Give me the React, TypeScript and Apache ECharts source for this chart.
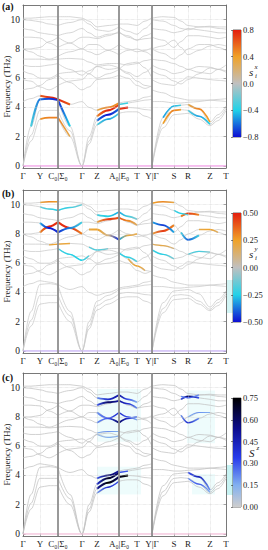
import { useEffect, useRef } from "react";
import * as echarts from "echarts";

// ---------- k-path ----------
const K_POS = [0, 17, 35, 59, 74, 96, 114, 129, 151, 165, 187, 203];
const K_LABELS = ["Γ", "Y", "C₀|Σ₀", "Γ", "Z", "A₀|E₀", "T", "Y|Γ", "S", "R", "Z", "T"];
const K_BOUNDS = [35, 96, 129];
const K_GRID = [17, 59, 74, 114, 151, 165, 187];
const F_TICKS = [0, 2, 4, 6, 8, 10];

// sample positions of each path segment
const SEG_A = [0, 8, 17, 26, 35];
const SEG_B = [35, 47, 59, 66, 74, 85, 96];
const SEG_C = [96, 105, 114, 122, 129];
const SEG_D = [129, 140, 151, 158, 165, 176, 187, 195, 203];

// ---------- phonon bands (THz), values at SEG_A | SEG_B | SEG_C | SEG_D ----------
const BAND_01 = [0, 1.7, 3.2, 3.3, 3.3, 3.3, 2.0, 0, 1.5, 2.8, 3.2, 3.6, 3.6, 3.7, 3.7, 3.4, 3.2, 0, 2.6, 3.5, 3.55, 3.6, 3.2, 2.75, 3.1, 3.8];
const BAND_02 = [0, 2.1, 3.8, 3.8, 3.8, 3.8, 2.4, 0, 1.7, 3.1, 3.5, 3.9, 3.9, 4.0, 3.95, 3.85, 3.8, 0, 2.9, 3.8, 3.85, 3.8, 3.4, 2.85, 3.3, 3.95];
const BAND_03 = [0, 2.7, 4.55, 4.6, 4.5, 4.5, 2.7, 0, 2.0, 3.4, 3.8, 4.2, 4.2, 4.3, 4.4, 4.5, 4.55, 0, 3.3, 4.1, 4.15, 4.2, 3.9, 3.0, 3.5, 4.1];
const BAND_04 = [4.4, 4.6, 4.8, 4.7, 4.55, 4.55, 4.2, 4.4, 4.0, 3.8, 4.0, 4.3, 4.3, 4.4, 4.5, 4.7, 4.8, 4.4, 4.4, 4.3, 4.3, 4.35, 4.4, 4.5, 4.45, 4.4];
const BAND_05 = [5.2, 5.3, 5.5, 5.9, 6.2, 6.2, 5.7, 5.2, 5.4, 5.9, 6.0, 6.2, 6.2, 6.0, 5.5, 5.3, 5.5, 5.2, 5.0, 4.7, 4.6, 4.5, 4.5, 4.5, 4.55, 4.6];
const BAND_06 = [5.9, 5.8, 5.4, 5.2, 5.5, 5.5, 5.8, 5.9, 6.3, 6.8, 6.9, 6.7, 6.7, 6.3, 5.8, 5.5, 5.4, 5.9, 5.6, 5.5, 5.8, 6.1, 6.0, 5.9, 5.85, 5.8];
const BAND_07 = [6.5, 6.3, 6.0, 6.0, 6.3, 6.3, 6.4, 6.5, 6.3, 6.0, 6.3, 6.6, 6.6, 7.0, 7.1, 6.7, 6.0, 6.5, 6.2, 5.8, 5.6, 5.9, 6.3, 6.7, 6.6, 6.4];
const BAND_08 = [6.9, 6.8, 6.8, 6.9, 7.0, 7.0, 6.6, 6.2, 6.5, 6.8, 6.6, 6.7, 6.7, 6.4, 6.1, 6.4, 6.8, 6.9, 6.6, 6.3, 6.4, 6.6, 6.8, 6.75, 6.6, 6.5];
const BAND_09 = [7.3, 7.3, 7.3, 7.25, 7.3, 7.3, 7.35, 7.3, 7.1, 6.9, 7.0, 7.0, 7.0, 6.9, 7.0, 7.2, 7.3, 7.3, 7.2, 7.0, 6.8, 6.6, 6.4, 6.3, 6.6, 6.9];
const BAND_10 = [8.0, 7.8, 7.5, 7.3, 7.5, 7.5, 7.8, 8.0, 8.3, 8.3, 7.9, 7.6, 7.6, 7.9, 8.0, 7.8, 7.5, 8.0, 7.7, 7.3, 7.6, 8.0, 8.3, 8.3, 8.1, 7.9];
const BAND_11 = [8.0, 8.0, 8.1, 8.5, 8.8, 8.8, 8.4, 8.0, 7.8, 7.6, 7.9, 8.3, 8.3, 8.0, 7.8, 7.9, 8.1, 8.0, 8.2, 8.6, 8.1, 7.6, 7.9, 8.2, 8.3, 8.2];
const BAND_12 = [8.8, 8.8, 8.75, 8.4, 8.1, 8.1, 8.4, 8.8, 8.8, 8.7, 8.9, 9.2, 9.2, 8.8, 8.6, 8.7, 8.75, 8.8, 8.6, 8.1, 8.5, 8.9, 8.9, 8.8, 8.7, 8.8];
const BAND_13 = [9.4, 9.3, 9.1, 9.0, 8.9, 8.9, 9.1, 9.4, 9.1, 8.8, 9.0, 9.1, 9.1, 8.9, 8.6, 8.9, 9.1, 9.4, 9.3, 9.1, 9.2, 9.4, 9.3, 9.2, 9.1, 9.1];
const BAND_14 = [10.0, 9.95, 9.85, 9.7, 9.6, 9.6, 9.8, 10.0, 9.7, 9.3, 9.2, 9.5, 9.5, 9.2, 9.0, 9.4, 9.85, 10.0, 9.9, 9.6, 9.4, 9.3, 9.5, 9.5, 9.4, 9.35];
const BAND_15 = [10.1, 10.1, 10.15, 10.2, 10.2, 10.2, 10.2, 10.1, 9.9, 9.5, 9.6, 9.7, 9.7, 9.7, 9.6, 9.9, 10.15, 10.1, 10.2, 10.15, 9.9, 9.6, 9.5, 9.55, 9.5, 9.5];
const BANDS = [BAND_01, BAND_02, BAND_03, BAND_04, BAND_05, BAND_06, BAND_07, BAND_08, BAND_09, BAND_10, BAND_11, BAND_12, BAND_13, BAND_14, BAND_15];

// ---------- projected values on band pieces: band index, first sample index, values ----------
type HL = { b: number; i: number; s: number[] };
const HL_A: HL[] = [
  { b: 3, i: 2, s: [0.6, 0.75, 0.8] }, { b: 3, i: 5, s: [0.8, 0.6] },
  { b: 2, i: 1, s: [-0.3, -0.6, -0.7, -0.75] }, { b: 2, i: 5, s: [-0.75, -0.4] },
  { b: 0, i: 2, s: [0.45, 0.5, 0.5] }, { b: 0, i: 5, s: [0.5, 0.3] },
  { b: 2, i: 9, s: [0.5, 0.8, 0.7] }, { b: 1, i: 9, s: [-0.6, -0.8, -0.6] },
  { b: 0, i: 9, s: [-0.3, -0.5, -0.3] }, { b: 3, i: 9, s: [0.3, 0.5, 0.45] },
  { b: 1, i: 12, s: [0.7, 0.8] }, { b: 2, i: 12, s: [-0.3, -0.35] },
  { b: 2, i: 18, s: [-0.5, -0.45, -0.3] }, { b: 1, i: 18, s: [0.4, 0.5, 0.4] },
  { b: 2, i: 21, s: [0.3, 0.5, 0.4] }, { b: 1, i: 21, s: [-0.3, -0.5, -0.4] },
];
const HL_B: HL[] = [
  { b: 14, i: 2, s: [0.2, 0.3, 0.25] }, { b: 14, i: 17, s: [0.25, 0.3, 0.2] },
  { b: 13, i: 2, s: [-0.15, -0.2, -0.25] }, { b: 13, i: 5, s: [-0.25, -0.2, -0.15] },
  { b: 10, i: 2, s: [0.3, 0.5, 0.45] }, { b: 11, i: 2, s: [-0.3, -0.5, -0.45] },
  { b: 10, i: 5, s: [0.45, 0.5, 0.3] }, { b: 11, i: 5, s: [-0.45, -0.35, -0.2] },
  { b: 8, i: 3, s: [0.2, 0.25] }, { b: 8, i: 5, s: [0.25, 0.2] },
  { b: 7, i: 5, s: [-0.2, -0.25, -0.25, -0.15] },
  { b: 9, i: 8, s: [0.2, 0.25, 0.1, -0.45] },
  { b: 12, i: 9, s: [0.2, 0.45, 0.4] }, { b: 13, i: 9, s: [-0.2, -0.25, -0.3] },
  { b: 13, i: 12, s: [-0.3, -0.2, -0.1] }, { b: 12, i: 12, s: [0.4, 0.3, 0.15] },
  { b: 9, i: 12, s: [-0.3, 0.2, 0.25] }, { b: 7, i: 12, s: [-0.2, -0.25, -0.15] },
  { b: 5, i: 13, s: [0.15, 0.25, 0.15] }, { b: 8, i: 8, s: [-0.15, -0.2, -0.1] },
  { b: 10, i: 17, s: [0.2, 0.45, 0.3] }, { b: 11, i: 17, s: [-0.3, -0.45, -0.3] },
  { b: 7, i: 17, s: [-0.2, -0.25, -0.1] }, { b: 8, i: 17, s: [0.15, 0.2, 0.1] },
  { b: 12, i: 20, s: [0.3, 0.45, 0.3] }, { b: 13, i: 19, s: [-0.2, -0.25, -0.15] },
  { b: 10, i: 20, s: [-0.2, -0.4, -0.2] }, { b: 9, i: 22, s: [0.2, 0.25, 0.15] },
  { b: 7, i: 21, s: [-0.15, -0.2, -0.1] },
];
const HL_C: HL[] = [
  { b: 2, i: 9, s: [0.4, 0.7, 0.6] }, { b: 1, i: 9, s: [0.5, 0.75, 0.6] },
  { b: 0, i: 9, s: [0.2, 0.4, 0.3] }, { b: 3, i: 9, s: [0.3, 0.6, 0.5] },
  { b: 1, i: 12, s: [0.7, 0.75] }, { b: 2, i: 12, s: [0.3, 0.3] },
  { b: 12, i: 9, s: [0.3, 0.6, 0.5] }, { b: 13, i: 9, s: [0.2, 0.4, 0.5] },
  { b: 12, i: 12, s: [0.5, 0.4, 0.2] }, { b: 13, i: 12, s: [0.5, 0.3, 0.15] },
  { b: 9, i: 9, s: [0.2, 0.3, 0.6] }, { b: 10, i: 9, s: [0.2, 0.3, 0.4] },
  { b: 9, i: 12, s: [0.6, 0.4, 0.2] }, { b: 10, i: 12, s: [0.4, 0.3, 0.15] },
  { b: 8, i: 9, s: [0.15, 0.2, 0.15] }, { b: 7, i: 9, s: [0.1, 0.15, 0.15] },
  { b: 12, i: 20, s: [0.3, 0.6, 0.3] }, { b: 13, i: 20, s: [0.2, 0.3, 0.2] },
  { b: 10, i: 20, s: [0.2, 0.4, 0.2] }, { b: 9, i: 21, s: [0.15, 0.2, 0.15] },
  { b: 2, i: 21, s: [0.3, 0.45, 0.2] }, { b: 1, i: 21, s: [0.2, 0.3, 0.15] },
];

const FONT = "'Liberation Serif', 'DejaVu Serif', serif";
const SEGMENTS = [SEG_A, SEG_B, SEG_C, SEG_D];
const SAMPLE_X = [...SEG_A, ...SEG_B, ...SEG_C, ...SEG_D];

type Stop = [number, number[]];
const DIVERGING: Stop[] = [[0, [14, 14, 210]], [0.25, [34, 210, 232]], [0.5, [192, 192, 192]], [0.75, [240, 162, 40]], [1, [226, 30, 14]]];
const SEQUENTIAL: Stop[] = [[0, [206, 206, 206]], [0.2, [130, 176, 240]], [0.45, [40, 60, 236]], [0.72, [12, 12, 140]], [1, [0, 0, 0]]];

function colorAt(stops: Stop[], t: number) {
  t = Math.max(0, Math.min(1, t));
  for (let k = 1; k < stops.length; k++) {
    if (t <= stops[k][0]) {
      const [t0, c0] = stops[k - 1];
      const [t1, c1] = stops[k];
      const u = (t - t0) / (t1 - t0);
      const c = c0.map((v, j) => Math.round(v + (c1[j] - v) * u));
      return `rgb(${c[0]},${c[1]},${c[2]})`;
    }
  }
  const c = stops[stops.length - 1][1];
  return `rgb(${c[0]},${c[1]},${c[2]})`;
}

function bandData(band: number[]) {
  const out: any[] = [];
  let st = 0;
  SEGMENTS.forEach((seg, si) => {
    seg.forEach((x, j) => out.push([x, band[st + j]]));
    if (si < SEGMENTS.length - 1) out.push([seg[seg.length - 1], null]);
    st += seg.length;
  });
  return out;
}

const PANELS = [
  { top: 5, label: "(a)", labelTop: 1, hl: HL_A, stops: DIVERGING, div: true, max: 0.8, cbMin: -0.8, cbMax: 0.8, cbStep: 0.4, dec: 1, cbTop: 30, cbH: 107, zero: "#f2a8e8", sup: "x", sub: "i", titleY: 64 },
  { top: 190, label: "(b)", labelTop: 188, hl: HL_B, stops: DIVERGING, div: true, max: 0.5, cbMin: -0.5, cbMax: 0.5, cbStep: 0.25, dec: 2, cbTop: 213, cbH: 109, zero: "#cbb8f4", sup: "y", sub: "i", titleY: 246 },
  { top: 373, label: "(c)", labelTop: 372, hl: HL_C, stops: SEQUENTIAL, div: false, max: 0.75, cbMin: 0, cbMax: 0.75, cbStep: 0.15, dec: 2, cbTop: 398, cbH: 109, zero: "#f4c4dc", sup: "z", sub: "", titleY: 445 },
];

const AX = "#6a6a6a";

function buildOption() {
  const grid: any[] = [], xAxis: any[] = [], yAxis: any[] = [], series: any[] = [], graphic: any[] = [];
  PANELS.forEach((p, pi) => {
    const gMain = grid.length;
    grid.push({ left: 23, top: p.top, width: 203, height: 163, outerBoundsMode: "none" });
    const gCb = grid.length;
    grid.push({ left: 233, top: p.cbTop, width: 8, height: p.cbH, show: true, borderColor: "#444", borderWidth: 0.8, outerBoundsMode: "none" });

    const xMain = xAxis.length;
    const xBase = {
      type: "value", gridIndex: gMain, min: 0, max: 203,
      axisLine: { show: true, onZero: false, lineStyle: { color: AX, width: 0.9 } },
      axisTick: { show: true, inside: true, length: 2.5, customValues: K_POS, lineStyle: { color: AX, width: 0.7 } },
      splitLine: { show: false },
    };
    xAxis.push({
      ...xBase, position: "bottom",
      axisLabel: {
        show: true, customValues: K_POS, showMinLabel: true, showMaxLabel: true, hideOverlap: false,
        formatter: (v: number) => { const k = K_POS.indexOf(Math.round(v)); return k >= 0 ? K_LABELS[k] : ""; },
        fontFamily: FONT, fontSize: 9, color: "#222", margin: 3,
      },
    });
    xAxis.push({ ...xBase, position: "top", axisLabel: { show: false } });
    const xCb = xAxis.length;
    xAxis.push({ type: "value", gridIndex: gCb, min: 0, max: 1, show: false });

    const yMain = yAxis.length;
    const yBase = {
      type: "value", gridIndex: gMain, min: -0.14, max: 11,
      axisLine: { show: true, onZero: false, lineStyle: { color: AX, width: 0.9 } },
      axisTick: { show: true, inside: true, length: 2.5, customValues: F_TICKS, lineStyle: { color: AX, width: 0.7 } },
      splitLine: { show: false },
    };
    yAxis.push({
      ...yBase, position: "left",
      axisLabel: { show: true, customValues: F_TICKS, fontFamily: FONT, fontSize: 9.5, color: "#222", margin: 3 },
      name: "Frequency (THz)", nameLocation: "middle", nameGap: 12, nameMoveOverlap: false,
      nameTextStyle: { fontFamily: FONT, fontSize: 9, color: "#222" },
    });
    yAxis.push({ ...yBase, position: "right", axisLabel: { show: false } });
    const yCb = yAxis.length;
    yAxis.push({
      type: "value", gridIndex: gCb, min: p.cbMin, max: p.cbMax, interval: p.cbStep, position: "right",
      axisLine: { show: false },
      axisTick: { show: true, inside: true, length: 2, lineStyle: { color: "#333", width: 0.6 } },
      axisLabel: {
        fontFamily: FONT, fontSize: 8.5, color: "#222", margin: 2,
        formatter: (v: number) => (v < -1e-9 ? "−" : "") + Math.abs(v).toFixed(p.dec),
      },
      splitLine: { show: false },
    });

    // grid lines + zero line
    const dotted = { type: "dotted", color: "#cfcfcf", width: 0.6 };
    series.push({
      type: "line", xAxisIndex: xMain, yAxisIndex: yMain, z: 1, silent: true, symbol: "none",
      data: [[0, 0], [203, 0]], lineStyle: { color: p.zero, width: 0.9 },
      markLine: {
        silent: true, symbol: ["none", "none"], label: { show: false }, animation: false,
        data: [
          ...K_GRID.map((k) => ({ xAxis: k, lineStyle: dotted })),
          ...F_TICKS.filter((f) => f > 0).map((f) => ({ yAxis: f, lineStyle: dotted })),
        ],
      },
      markArea: pi === 2 ? {
        silent: true, animation: false, itemStyle: { color: "rgba(205,246,246,0.35)" },
        data: [
          [{ coord: [74, 2.7] }, { coord: [118, 4.6] }],
          [{ coord: [74, 6.3] }, { coord: [118, 9.9] }],
          [{ coord: [164, 6.2] }, { coord: [192, 9.8] }],
          [{ coord: [169, 2.7] }, { coord: [192, 4.1] }],
        ],
      } : undefined,
    });
    // bands
    BANDS.forEach((band) => {
      series.push({
        type: "line", xAxisIndex: xMain, yAxisIndex: yMain, z: 2, silent: true, symbol: "none",
        smooth: 0.35, smoothMonotone: "x", connectNulls: false,
        data: bandData(band), lineStyle: { color: pi === 2 ? "#c2c2c2" : "#c9c9c9", width: 0.75 },
      });
    });
    // boundaries
    series.push({
      type: "line", xAxisIndex: xMain, yAxisIndex: yMain, z: 4, silent: true, symbol: "none",
      data: [[0, 0], [203, 0]], lineStyle: { color: p.zero, width: 0.9 },
      markLine: {
        silent: true, symbol: ["none", "none"], label: { show: false }, animation: false,
        data: K_BOUNDS.map((k) => ({ xAxis: k, lineStyle: { type: "solid", color: "#8e8e8e", width: 1.8 } })),
      },
    });
    // projected highlights
    p.hl.forEach((h) => {
      const band = BANDS[h.b];
      const pts = h.s.map((_, j) => [SAMPLE_X[h.i + j], band[h.i + j]]);
      const x0 = pts[0][0], x1 = pts[pts.length - 1][0];
      const maxAbs = Math.max(...h.s.map(Math.abs));
      const stops = h.s.map((v, j) => ({
        offset: (pts[j][0] - x0) / (x1 - x0),
        color: colorAt(p.stops, p.div ? (v / p.max + 1) / 2 : v / p.max),
      }));
      series.push({
        type: "line", xAxisIndex: xMain, yAxisIndex: yMain, z: 3, silent: true, symbol: "none",
        smooth: 0.35, smoothMonotone: "x", data: pts,
        lineStyle: { width: 0.8 + 1.3 * maxAbs / p.max, color: { type: "linear", x: 0, y: 0, x2: 1, y2: 0, colorStops: stops } },
      });
    });
    // colorbar fill
    const cbStops = p.stops.map(([t]) => ({ offset: 1 - t, color: colorAt(p.stops, t) })).reverse();
    series.push({
      type: "line", xAxisIndex: xCb, yAxisIndex: yCb, silent: true, symbol: "none",
      data: [[0.5, p.cbMin]], lineStyle: { opacity: 0 },
      markArea: {
        silent: true, animation: false,
        itemStyle: { color: { type: "linear", x: 0, y: 0, x2: 0, y2: 1, colorStops: cbStops } },
        data: [[{ coord: [0, p.cbMax] }, { coord: [1, p.cbMin] }]],
      },
    });

    graphic.push({
      type: "text", left: 2, top: p.labelTop,
      style: { text: p.label, font: `bold 10px ${FONT}`, fill: "#111" },
    });
    // colorbar title
    const tx = 249;
    graphic.push({ type: "text", left: tx, top: p.titleY + 2, style: { text: pi === 2 ? "S" : "s", font: `italic 11px ${FONT}`, fill: "#222" } });
    graphic.push({ type: "text", left: tx + (pi === 2 ? 7.5 : 5.5), top: p.titleY - 1, style: { text: p.sup, font: `italic 7px ${FONT}`, fill: "#222" } });
    if (p.sub) graphic.push({ type: "text", left: tx + 6, top: p.titleY + 8, style: { text: p.sub, font: `italic 7px ${FONT}`, fill: "#222" } });
  });
  // pale cyan bleed at right edge of (b) and (c)
  graphic.push({ type: "rect", left: 226, top: 280, shape: { width: 7, height: 33 }, style: { fill: "#d2f5f5" }, z: -1 });
  graphic.push({ type: "rect", left: 226, top: 465, shape: { width: 7, height: 30 }, style: { fill: "#c8f3f3" }, z: -1 });

  return { animation: false, backgroundColor: "#ffffff", grid, xAxis, yAxis, series, graphic };
}

export default function App() {
  const ref = useRef<HTMLDivElement>(null);
  useEffect(() => {
    if (!ref.current) return;
    const chart = echarts.init(ref.current, undefined, { renderer: "svg" });
    chart.setOption(buildOption() as any);
    return () => chart.dispose();
  }, []);
  return <div ref={ref} style={{ position: "fixed", left: 0, top: 0, width: 268, height: 550, background: "#fff" }} />;
}
